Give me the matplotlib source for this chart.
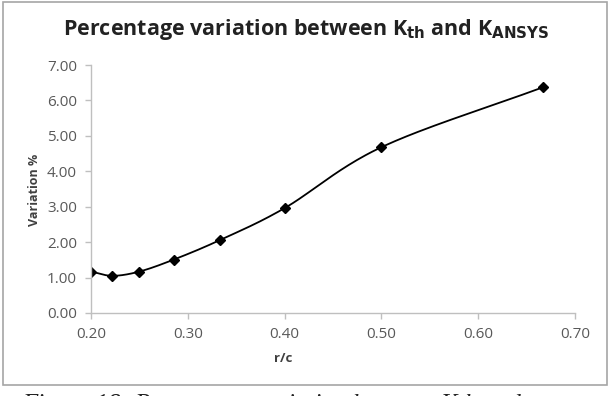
import numpy as np
import matplotlib
matplotlib.use("Agg")
import matplotlib.pyplot as plt
from matplotlib.patches import Rectangle

# Data
r_c = [0.200, 0.2222, 0.250, 0.2857, 0.3333, 0.400, 0.500, 0.6667]
variation = [1.17, 1.05, 1.17, 1.51, 2.06, 2.96, 4.68, 6.37]
x_ticks = [0.20, 0.30, 0.40, 0.50, 0.60, 0.70]
y_ticks = [0.00, 1.00, 2.00, 3.00, 4.00, 5.00, 6.00, 7.00]

def smooth(xs, ys, n=40, t=0.5):
    # Catmull-Rom style smoothing (like Excel smoothed lines)
    xs = np.asarray(xs, float); ys = np.asarray(ys, float)
    P = np.column_stack([xs, ys])
    P = np.vstack([P[0] - (P[1] - P[0]), P, P[-1] + (P[-1] - P[-2])])
    out = []
    for i in range(1, len(P) - 2):
        p0, p1, p2, p3 = P[i - 1], P[i], P[i + 1], P[i + 2]
        m1 = t * (p2 - p0); m2 = t * (p3 - p1)
        s = np.linspace(0, 1, n)[:, None]
        h00 = 2*s**3 - 3*s**2 + 1; h10 = s**3 - 2*s**2 + s
        h01 = -2*s**3 + 3*s**2; h11 = s**3 - s**2
        out.append(h00*p1 + h10*m1 + h01*p2 + h11*m2)
    C = np.vstack(out)
    return C[:, 0], C[:, 1]

W, H = 615, 396
fig = plt.figure(figsize=(W/100, H/100), dpi=100)
fig.patch.set_facecolor("white")

# outer chart border
fig.patches.append(Rectangle((3/W, 1 - 385/H), 604/W, 383/H, transform=fig.transFigure,
                             fill=False, edgecolor="#a6a6a6", linewidth=1.2))

ax = fig.add_axes([91/W, 1 - 313/H, (575 - 91)/W, (313 - 65)/H])
sx, sy = smooth(r_c, variation)
ax.plot(sx, sy, color="black", linewidth=1.3)
ax.plot(r_c, variation, linestyle="none", marker="D", markersize=5.5, color="black")

ax.set_xlim(0.20, 0.70)
ax.set_ylim(0.0, 7.0)
ax.set_xticks(x_ticks)
ax.set_yticks(y_ticks)
ax.set_xticklabels([f"{v:.2f}" for v in x_ticks])
ax.set_yticklabels([f"{v:.2f}" for v in y_ticks])
for s in ["top", "right"]:
    ax.spines[s].set_visible(False)
for s in ["left", "bottom"]:
    ax.spines[s].set_color("#bfbfbf")
    ax.spines[s].set_linewidth(1.0)
ax.tick_params(axis="both", colors="#bfbfbf", labelcolor="#595959", labelsize=11,
               length=4, width=1.0, direction="out")
ax.tick_params(axis="x", pad=6)
ax.tick_params(axis="y", pad=6)
for lab in ax.get_xticklabels() + ax.get_yticklabels():
    lab.set_fontfamily("Open Sans")

fig.text(35/W, 1 - 190/H, "Variation %", rotation=90, ha="center", va="center",
         fontsize=9, fontweight="bold", color="#404040", family="Open Sans")
fig.text(283/W, 1 - 358/H, "r/c", ha="center", va="center",
         fontsize=9.5, fontweight="bold", color="#404040", family="Open Sans")
fig.text(306/W, 1 - 30/H, r"Percentage variation between K$_{\mathbf{th}}$ and K$_{\mathbf{ANSYS}}$",
         ha="center", va="center", fontsize=15.5, fontweight="bold", color="#222222",
         family="Open Sans")
fig.text(22/W, 1 - 411/H, "Figure 18: Percentage variation between Kth and",
         ha="left", va="baseline", fontsize=18, style="italic", color="#222222",
         family="Liberation Serif")

fig.savefig("out.png", dpi=100, facecolor="white")
